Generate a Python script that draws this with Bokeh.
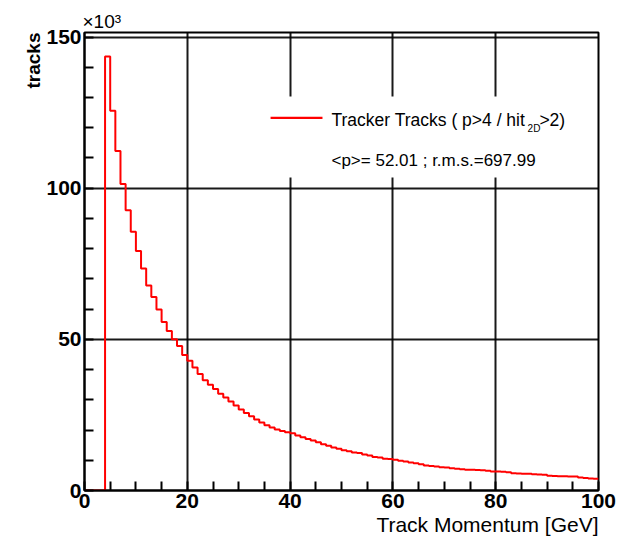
import math
from bokeh.plotting import figure
from bokeh.models import Range1d, FixedTicker, Label, BoxAnnotation, Title
from bokeh.embed import file_html
from bokeh.resources import INLINE

# ---- data (thousands of tracks per 1 GeV bin, 0..100 GeV) ----
bin_edges = list(range(0, 101))
tracks_k = [
    0.0, 0.0, 0.0, 0.0, 143.6, 125.6, 112.3, 101.4, 92.7, 85.6,
    79.2, 73.4, 67.8, 64.0, 59.9, 55.7, 52.8, 50.0, 47.8, 44.8,
    42.9, 40.7, 38.5, 36.5, 35.0, 33.6, 32.0, 30.8, 29.4, 28.1,
    26.8, 25.6, 24.6, 23.5, 22.5, 21.6, 20.8, 20.2, 19.7, 19.3,
    18.9, 18.2, 17.6, 17.0, 16.5, 16.0, 15.3, 14.8, 14.2, 13.8,
    13.3, 13.0, 12.6, 12.4, 11.9, 11.6, 11.1, 10.9, 10.5, 10.4,
    10.2, 9.8, 9.6, 9.3, 9.0, 8.7, 8.3, 8.1, 7.9, 7.7,
    7.6, 7.4, 7.2, 7.0, 6.9, 6.9, 6.8, 6.7, 6.5, 6.3,
    6.3, 6.2, 6.0, 5.7, 5.6, 5.5, 5.5, 5.4, 5.3, 5.2,
    4.9, 4.8, 4.7, 4.7, 4.6, 4.6, 4.3, 4.1, 4.0, 3.9,
]
x_ticks = [0, 20, 40, 60, 80, 100]
x_minor = list(range(0, 101, 5))
y_ticks = [0, 50, 100, 150]
y_minor = list(range(0, 151, 10))

x_title = "Track Momentum [GeV]"
y_title = "tracks"
y_scale_text = "×10³"
legend_text = "Tracker Tracks ( p>4 / hit"
legend_sub = "2D"
legend_tail = ">2)"
stats_text = "<p>= 52.01 ; r.m.s.=697.99"

FONT = "Liberation Sans"

p = figure(width=629, height=536, output_backend="svg", toolbar_location=None,
           x_range=Range1d(0, 100), y_range=Range1d(0, 151.5),
           min_border_left=84, min_border_right=31, min_border_top=32,
           min_border_bottom=46, background_fill_color="white",
           border_fill_color="white", title=y_scale_text)

p.title.align = "left"
p.title.text_font = FONT
p.title.text_font_size = "19px"
p.title.text_font_style = "normal"
p.title.text_color = "black"
p.title.standoff = 2
p.title.offset = -2

p.outline_line_color = "black"
p.outline_line_width = 2

xt = FixedTicker(ticks=x_ticks, minor_ticks=x_minor)
yt = FixedTicker(ticks=y_ticks, minor_ticks=y_minor)
p.xaxis.ticker = xt
p.yaxis.ticker = yt
p.xgrid.ticker = xt
p.ygrid.ticker = yt
for g in (p.xgrid, p.ygrid):
    g.grid_line_color = "black"
    g.grid_line_width = 2
    g.grid_line_alpha = 0.9

for ax in (p.xaxis, p.yaxis):
    ax.axis_line_color = "black"
    ax.axis_line_width = 2
    ax.major_tick_in = 0
    ax.major_tick_out = 0
    ax.minor_tick_in = 9
    ax.minor_tick_out = 0
    ax.minor_tick_line_color = "black"
    ax.minor_tick_line_width = 2
    ax.major_label_text_font = FONT
    ax.major_label_text_font_style = "bold"
    ax.major_label_text_font_size = "21px"
    ax.major_label_text_color = "black"
p.xaxis.major_label_standoff = 3
p.yaxis.major_label_standoff = 3

# axis titles placed at the far ends, ROOT style
p.add_layout(Title(text=x_title, align="right", text_font=FONT,
                   text_font_size="21px", text_font_style="normal",
                   text_color="black", standoff=0), "below")
p.add_layout(Title(text=y_title, align="right", text_font=FONT,
                   text_font_size="19px", text_font_style="bold",
                   text_color="black", standoff=0), "left")

p.step(x=bin_edges, y=tracks_k + [tracks_k[-1]], mode="after",
       line_color="#ff0000", line_width=2)

# legend box and entries
p.add_layout(BoxAnnotation(left=34.6, right=98.5, bottom=103.5, top=130.3,
                           fill_color="white", fill_alpha=1.0, line_alpha=0))
p.add_layout(BoxAnnotation(left=36.2, right=46.3, bottom=122.9, top=123.6,
                           fill_color="#ff0000", fill_alpha=1.0, line_alpha=0))

def lab(x, y, text, size, **kw):
    p.add_layout(Label(x=x, y=y, text=text, text_font=FONT,
                       text_font_size=size, text_color="black", **kw))

lab(48.05, 122.4, legend_text, "17.5px", text_baseline="alphabetic")
lab(86.2, 119.8, legend_sub, "10px", text_baseline="alphabetic")
lab(88.5, 122.4, legend_tail, "17.5px", text_baseline="alphabetic")
lab(48.05, 109.2, stats_text, "17px", text_baseline="alphabetic")

open("out.html", "w").write(file_html(p, INLINE))
